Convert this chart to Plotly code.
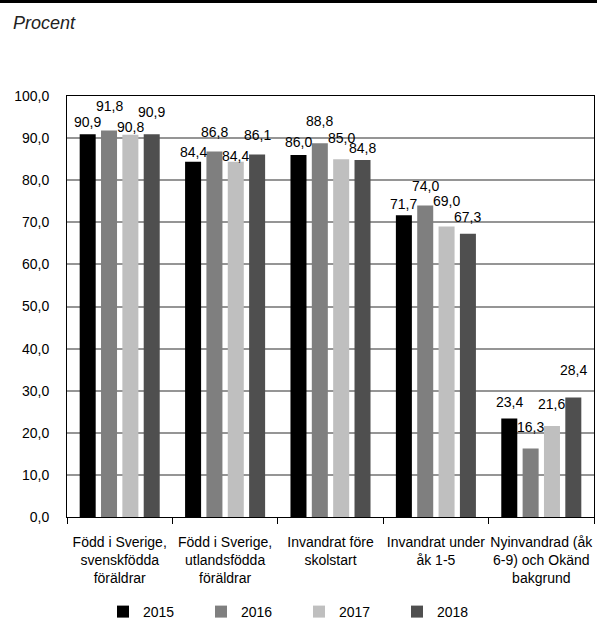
import plotly.graph_objects as go

categories = [
    "Född i Sverige,<br>svenskfödda<br>föräldrar",
    "Född i Sverige,<br>utlandsfödda<br>föräldrar",
    "Invandrat före<br>skolstart",
    "Invandrat under<br>åk 1-5",
    "Nyinvandrad (åk<br>6-9) och Okänd<br>bakgrund",
]
years = ["2015", "2016", "2017", "2018"]
v2015 = [90.9, 84.4, 86.0, 71.7, 23.4]
v2016 = [91.8, 86.8, 88.8, 74.0, 16.3]
v2017 = [90.8, 84.4, 85.0, 69.0, 21.6]
v2018 = [90.9, 86.1, 84.8, 67.3, 28.4]
series = [v2015, v2016, v2017, v2018]
colors = ["#000000", "#7f7f7f", "#bfbfbf", "#4f4f4f"]
# label lift above bar top (px), mimicking the staggered labels of the original
lifts = [
    [12, 10, 13, 11, 16],
    [25, 20, 22, 19, 21],
    [8, 6, 21, 26, 22],
    [22, 20, 12, 17, 27],
]
ytickvals = list(range(0, 101, 10))
yticktext = [f"{v:.1f}".replace(".", ",") for v in ytickvals]

FONT = "Liberation Sans, Arial, sans-serif"
FS = 14
bargap = 0.19
bargroupgap = 0.25
W, H = 597, 622
ML, MR, MT, MB = 67, 3, 96, 105
PW, PH = W - ML - MR, H - MT - MB

fig = go.Figure()
for name, vals, col in zip(years, series, colors):
    fig.add_trace(go.Bar(name=name, x=categories, y=vals,
                         marker=dict(color=col, line=dict(width=0))))

slot = (1 - bargap) / len(series)
annotations = []
for i, vals in enumerate(series):
    for j, v in enumerate(vals):
        annotations.append(dict(
            x=j + (i - (len(series) - 1) / 2) * slot, y=v, xref="x", yref="y",
            text=f"{v:.1f}".replace(".", ","), showarrow=False,
            yanchor="middle", yshift=lifts[i][j],
            font=dict(family=FONT, size=FS, color="#000000"),
        ))
annotations.append(dict(
    x=(11 - ML) / PW, y=1 + (MT - 23) / PH, xref="paper", yref="paper", text="Procent",
    showarrow=False, xanchor="left", yanchor="middle",
    font=dict(family=FONT, size=18, color="#222222", style="italic"),
))

fig.update_layout(
    width=W, height=H,
    margin=dict(l=ML, r=MR, t=MT, b=MB, autoexpand=False),
    plot_bgcolor="white", paper_bgcolor="white",
    barmode="group", bargap=bargap, bargroupgap=bargroupgap,
    font=dict(family=FONT, size=FS, color="#000000"),
    showlegend=True,
    legend=dict(orientation="h", x=(103 - ML) / PW, xanchor="left",
                y=-(612 - (H - MB)) / PH, yanchor="middle",
                entrywidth=53, entrywidthmode="pixels",
                font=dict(family=FONT, size=FS), bgcolor="rgba(0,0,0,0)"),
    annotations=annotations,
    shapes=[dict(type="rect", xref="paper", yref="paper",
                 x0=-ML / PW, x1=(W - ML) / PW, y0=1 + (MT - 3) / PH, y1=1 + (MT + 4) / PH,
                 fillcolor="black", line=dict(width=0), layer="above")],
)

fig.update_yaxes(range=[0, 100], tickvals=ytickvals, ticktext=yticktext,
                 showgrid=True, gridcolor="#959595", gridwidth=1.5,
                 showline=True, linecolor="#000000", linewidth=1, mirror=True,
                 ticks="", ticklabelstandoff=14, zeroline=False,
                 tickfont=dict(family=FONT, size=FS))
fig.update_xaxes(showline=True, linecolor="#000000", linewidth=1, mirror=True,
                 ticks="outside", tickson="boundaries", ticklen=6, tickcolor="#000000",
                 ticklabelstandoff=12,
                 tickfont=dict(family=FONT, size=FS), tickangle=0)

fig.write_html("out.html", config={"displayModeBar": False},
               post_script="document.body.style.margin='0px';")
